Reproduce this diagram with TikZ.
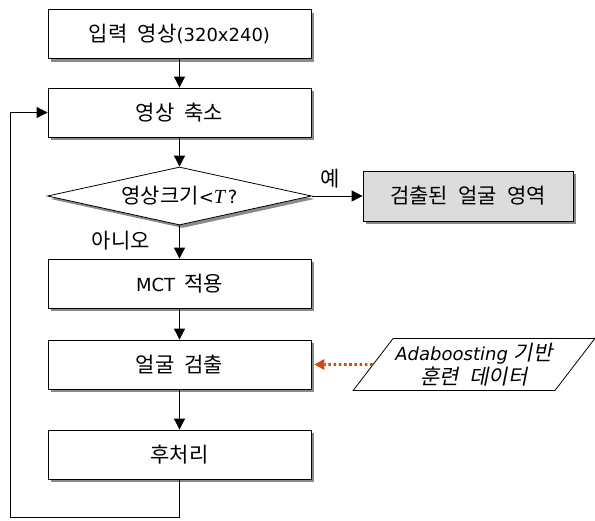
\documentclass[tikz,border=0pt]{standalone}
\usepackage{fontspec}
\setmainfont{DejaVu Sans}
\newfontfamily\kr[WordSpace=2.2]{Noto Sans CJK KR}
\newfontfamily\krit[WordSpace=2.2,FakeSlant=0.2]{Noto Sans CJK KR}
\newfontfamily\tnr{Liberation Serif}
\usetikzlibrary{shapes.geometric,shadows,arrows.meta}
\newcommand{\kor}[1]{{\kr\fontsize{21pt}{24pt}\selectfont #1}}
\newcommand{\korit}[1]{{\krit\fontsize{21pt}{24pt}\selectfont #1}}
\definecolor{shadowgray}{HTML}{8A8A8A}
\definecolor{resfill}{HTML}{DCDCDC}
\definecolor{dotred}{HTML}{D24A14}
\begin{document}
\begin{tikzpicture}[x=1pt,y=-1pt,
  font=\fontsize{18pt}{22pt}\selectfont,
  sh/.style={drop shadow={shadow xshift=3pt,shadow yshift=-3pt,fill=shadowgray,opacity=1}},
  procbox/.style={draw=black,line width=0.8pt,fill=white,sh,minimum width=263pt,minimum height=49pt,inner sep=0pt},
  decbox/.style={diamond,draw=black,line width=0.8pt,fill=white,sh,aspect=4.5,minimum width=264pt,minimum height=58pt,inner sep=0pt},
  databox/.style={trapezium,trapezium left angle=48,trapezium right angle=132,trapezium stretches=true,draw=black,line width=0.8pt,fill=white,minimum width=242pt,minimum height=52pt,inner sep=0pt,align=center},
  flow/.style={draw=black,line width=0.8pt,-{Triangle[length=11pt,width=11pt]}},
  dotflow/.style={draw=dotred,line width=2.6pt,dash pattern=on 2.6pt off 2.6pt,-{Triangle[length=10pt,width=11pt,line width=0pt]},shorten >=3pt}
]
\useasboundingbox[fill=white] (0,0) rectangle (595,520);

\node[procbox] (b1) at (179.5,34) {\kor{입력 영상}(320x240)};
\node[procbox] (b2) at (179.5,112.5) {\kor{영상 축소}};
\node[decbox] (dia) at (179.5,196) {\kor{영상크기}<{\tnr\itshape\fontsize{20pt}{22pt}\selectfont T}\,?};
\node[procbox,fill=resfill,minimum width=210pt,minimum height=50pt] (res) at (468,196) {\kor{검출된 얼굴 영역}};
\node[procbox] (mct) at (179.5,283.5) {MCT\hspace{9pt}\kor{적용}};
\node[procbox] (face) at (179.5,364.5) {\kor{얼굴 검출}};
\node[databox] (dat) at (474,364.5) {{\itshape Adaboosting}\hspace{6pt}\korit{기반}\\[2pt]\korit{훈련 데이터}};
\node[procbox] (post) at (179.5,454.5) {\kor{후처리}};
\coordinate (lb) at (10,517);

\draw[flow] (b1.south) -- (b2.north);
\draw[flow] (b2.south) -- (dia.north);
\draw[flow] (dia.east) -- node[pos=0.36,above=4pt] (yes) {\kor{예}} (res.west);
\draw[flow] (dia.south) -- node[left=26pt,pos=0.45] (no) {\kor{아니오}} (mct.north);
\draw[flow] (mct.south) -- (face.north);
\draw[flow] (face.south) -- (post.north);
\draw[dotflow] (dat.west) -- (face.east);
\draw[flow] (post.south) |- (lb) |- (b2.west);
\end{tikzpicture}
\end{document}
